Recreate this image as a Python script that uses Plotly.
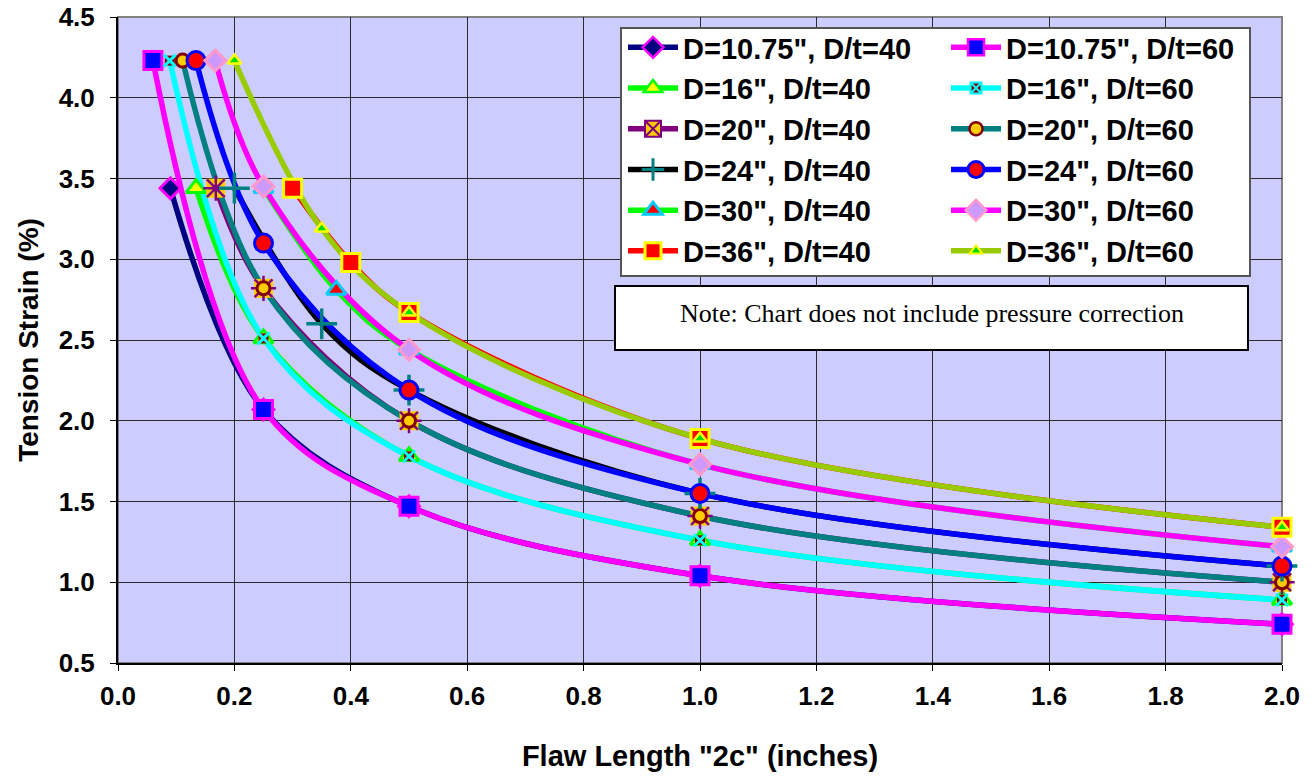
import plotly.graph_objects as go

# ---------------- data ----------------
names = [
    'D=10.75", D/t=40', 'D=10.75", D/t=60',
    'D=16", D/t=40', 'D=16", D/t=60',
    'D=20", D/t=40', 'D=20", D/t=60',
    'D=24", D/t=40', 'D=24", D/t=60',
    'D=30", D/t=40', 'D=30", D/t=60',
    'D=36", D/t=40', 'D=36", D/t=60',
]
x_d1075_40 = [0.09, 0.25, 0.5, 1.0, 2.0]
y_d1075_40 = [3.44, 2.07, 1.47, 1.04, 0.74]
x_d1075_60 = [0.06, 0.25, 0.5, 1.0, 2.0]
y_d1075_60 = [4.23, 2.07, 1.47, 1.04, 0.74]
x_d16_40 = [0.134, 0.25, 0.5, 1.0, 2.0]
y_d16_40 = [3.44, 2.51, 1.78, 1.26, 0.89]
x_d16_60 = [0.089, 0.25, 0.5, 1.0, 2.0]
y_d16_60 = [4.23, 2.51, 1.78, 1.26, 0.89]
x_d20_40 = [0.168, 0.25, 0.5, 1.0, 2.0]
y_d20_40 = [3.44, 2.82, 2.00, 1.41, 1.00]
x_d20_60 = [0.111, 0.25, 0.5, 1.0, 2.0]
y_d20_60 = [4.23, 2.82, 2.00, 1.41, 1.00]
x_d24_40 = [0.20, 0.35, 0.5, 1.0, 2.0]
y_d24_40 = [3.44, 2.60, 2.19, 1.55, 1.10]
x_d24_60 = [0.134, 0.25, 0.5, 1.0, 2.0]
y_d24_60 = [4.23, 3.10, 2.19, 1.55, 1.10]
x_d30_40 = [0.25, 0.375, 0.5, 1.0, 2.0]
y_d30_40 = [3.44, 2.81, 2.44, 1.73, 1.22]
x_d30_60 = [0.167, 0.25, 0.5, 1.0, 2.0]
y_d30_60 = [4.23, 3.45, 2.44, 1.73, 1.22]
x_d36_40 = [0.30, 0.40, 0.5, 1.0, 2.0]
y_d36_40 = [3.44, 2.98, 2.67, 1.89, 1.34]
x_d36_60 = [0.20, 0.35, 0.5, 1.0, 2.0]
y_d36_60 = [4.23, 3.19, 2.67, 1.89, 1.34]

xs = [x_d1075_40, x_d1075_60, x_d16_40, x_d16_60, x_d20_40, x_d20_60,
      x_d24_40, x_d24_60, x_d30_40, x_d30_60, x_d36_40, x_d36_60]
ys = [y_d1075_40, y_d1075_60, y_d16_40, y_d16_60, y_d20_40, y_d20_60,
      y_d24_40, y_d24_60, y_d30_40, y_d30_60, y_d36_40, y_d36_60]

x_ticks = [0.0, 0.2, 0.4, 0.6, 0.8, 1.0, 1.2, 1.4, 1.6, 1.8, 2.0]
y_ticks = [0.5, 1.0, 1.5, 2.0, 2.5, 3.0, 3.5, 4.0, 4.5]
note_text = "Note: Chart does not include pressure correction"

# ---------------- styles ----------------
line_colors = ["#000080", "#FF00FF", "#00FF00", "#00FFFF", "#800080", "#008080",
               "#000000", "#0000FF", "#00FF00", "#FF00FF", "#FF0000", "#99CC00"]

# marker layers per series: (symbol, size, fill, line color, line width)
marker_layers = [
    [("diamond", 16, "#000080", "#FF00FF", 3)],
    [("square", 18, "#0000FF", "#FF00FF", 3)],
    [("triangle-up", 17, "#FFFF00", "#00FF00", 3)],
    [("square", 10, "#800000", "#800000", 0), ("x-thin-open", 12, "#00FFFF", "#00FFFF", 3)],
    [("square", 19, "#FFCC00", "#FFCC00", 0), ("asterisk-open", 21, "#800080", "#800080", 2.5)],
    [("circle", 13, "#FFCC00", "#800000", 3)],
    [("cross-thin-open", 22, "#008080", "#008080", 3.5)],
    [("circle", 18, "#FF0000", "#0000FF", 3)],
    [("triangle-up", 17, "#FF0000", "#00CCFF", 3)],
    [("diamond", 16, "#CC99FF", "#FF99CC", 3)],
    [("square", 18, "#FF0000", "#FFFF00", 3)],
    [("triangle-up", 12, "#00DD00", "#FFFF00", 2.5)],
]
legend_markers = [
    ("diamond", 16, "#000080", "#FF00FF", 2.5),
    ("square", 16, "#0000FF", "#FF00FF", 2.5),
    ("triangle-up", 16, "#FFFF00", "#00FF00", 2.5),
    ("square-x", 11, "#800000", "#00FFFF", 2),
    ("square-x", 16, "#FFCC00", "#800080", 2),
    ("circle", 13, "#FFCC00", "#800000", 2.5),
    ("cross-thin-open", 16, "#008080", "#008080", 3),
    ("circle", 16, "#FF0000", "#0000FF", 3),
    ("triangle-up", 16, "#FF0000", "#00CCFF", 3),
    ("diamond", 16, "#CC99FF", "#FF99CC", 2.5),
    ("square", 16, "#FF0000", "#FFFF00", 3),
    ("triangle-up", 11, "#00DD00", "#FFFF00", 2),
]

LW = 5.5
fig = go.Figure()

# legend-only entries (left column = D/t=40, right column = D/t=60)
for i, nm in enumerate(names):
    sym, sz, fc, lc, lw = legend_markers[i]
    fig.add_trace(go.Scatter(
        x=[None], y=[None], name=nm, mode="lines+markers",
        line=dict(color=line_colors[i], width=LW),
        marker=dict(symbol=sym, size=sz, color=fc, line=dict(color=lc, width=lw)),
        legendgroup=nm, showlegend=True,
        legend="legend" if i % 2 == 0 else "legend2"))

# lines (all below the markers)
for i, nm in enumerate(names):
    fig.add_trace(go.Scatter(
        x=xs[i], y=ys[i], mode="lines", name=nm, legendgroup=nm, showlegend=False,
        line=dict(color=line_colors[i], width=LW, shape="spline", smoothing=1.0),
        cliponaxis=False, hoverinfo="skip"))

# markers
for i, nm in enumerate(names):
    for (sym, sz, fc, lc, lw) in marker_layers[i]:
        fig.add_trace(go.Scatter(
            x=xs[i], y=ys[i], mode="markers", name=nm, legendgroup=nm, showlegend=False,
            marker=dict(symbol=sym, size=sz, color=fc, line=dict(color=lc, width=lw)),
            cliponaxis=False))

W, H = 1312, 778
L, R, T, B = 118, 30, 17, 115
pw, ph = W - L - R, H - T - B


def px(xp):
    return (xp - L) / pw


def py(yp):
    return (H - B - yp) / ph


FONT = "Liberation Sans, Arial, sans-serif"
leg_common = dict(
    orientation="v", xanchor="left", yanchor="top",
    bgcolor="rgba(0,0,0,0)", borderwidth=0,
    font=dict(size=29, weight="bold", family=FONT, color="black"),
    itemwidth=50, tracegroupgap=3, traceorder="normal",
)

fig.update_layout(
    width=W, height=H,
    margin=dict(l=L, r=R, t=T, b=B, autoexpand=False),
    paper_bgcolor="white",
    plot_bgcolor="#CCCCFF",
    font=dict(family=FONT, color="black"),
    showlegend=True,
    legend=dict(x=px(623), y=py(22), **leg_common),
    legend2=dict(x=px(946), y=py(22), **leg_common),
    xaxis=dict(
        range=[0, 2.0], tickvals=x_ticks, tickformat=".1f", automargin=False,
        showgrid=True, gridcolor="#2a2a2a", gridwidth=1,
        ticks="outside", ticklen=6, tickcolor="black", tickwidth=1,
        showline=True, linecolor="black", linewidth=2, zeroline=False,
        tickfont=dict(size=26, weight="bold"),
        ticklabelstandoff=3,
        title=dict(text='Flaw Length "2c" (inches)', font=dict(size=29, weight="bold"), standoff=35),
    ),
    yaxis=dict(
        range=[0.5, 4.5], tickvals=y_ticks, tickformat=".1f", automargin=False,
        showgrid=True, gridcolor="#2a2a2a", gridwidth=1,
        ticks="outside", ticklen=6, tickcolor="black", tickwidth=1,
        showline=True, linecolor="black", linewidth=2, zeroline=False,
        tickfont=dict(size=26, weight="bold"),
        ticklabelstandoff=10,
        title=dict(text="Tension Strain (%)", font=dict(size=28, weight="bold"), standoff=12),
    ),
    shapes=[
        dict(type="rect", xref="paper", yref="paper", x0=0, x1=1, y0=0, y1=1,
             line=dict(color="#808080", width=2), layer="between"),
        # legend frame
        dict(type="rect", xref="paper", yref="paper",
             x0=px(621), x1=px(1250), y0=py(276), y1=py(28),
             fillcolor="white", line=dict(color="#555555", width=2), layer="above"),
        # note box
        dict(type="rect", xref="paper", yref="paper",
             x0=px(615), x1=px(1248), y0=py(350), y1=py(286),
             fillcolor="white", line=dict(color="black", width=2), layer="above"),
    ],
    annotations=[
        dict(text=note_text, xref="paper", yref="paper",
             x=(px(615) + px(1248)) / 2, y=py(313), xanchor="center", yanchor="middle",
             showarrow=False,
             font=dict(family="Liberation Serif, Times New Roman, serif", size=26, color="black")),
    ],
)

fig.write_html(
    "out.html",
    config={"displayModeBar": False},
    post_script="document.body.style.margin='0';document.body.style.overflow='hidden';",
)
